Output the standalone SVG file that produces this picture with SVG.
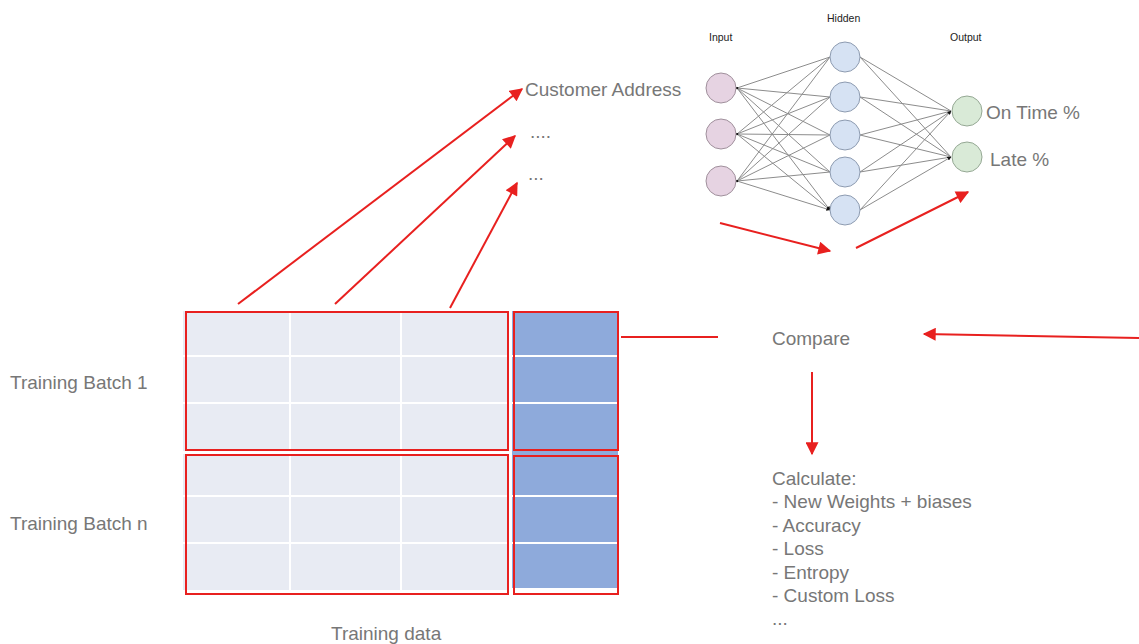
<svg xmlns="http://www.w3.org/2000/svg" width="1139" height="644" viewBox="0 0 1139 644">
  <style>
    .lbl { font-family: "Liberation Sans", Arial, sans-serif; font-size: 19px; fill: #777777; }
    .small { font-family: "Liberation Sans", Arial, sans-serif; font-size: 10.5px; fill: #222; }
    .red { stroke: #e8201f; stroke-width: 2; fill: none; }
    .nn { stroke: #8c8c8c; stroke-width: 1; fill: none; }
    .cell { fill: #e8ebf3; }
    .lab { fill: #8eaadb; }
    .grid { stroke: #ffffff; stroke-width: 2; }
    .box { fill: none; stroke: #e8201f; stroke-width: 2; }
  </style>
  <defs>
    <marker id="redArrow" viewBox="0 0 10 10" refX="9" refY="5" markerWidth="7" markerHeight="6.5" markerUnits="strokeWidth" orient="auto">
      <path d="M0,0 L10,5 L0,10 z" fill="#e8201f"/>
    </marker>
    <marker id="tinyArrow" viewBox="0 0 10 10" refX="9" refY="5" markerWidth="4" markerHeight="4" markerUnits="strokeWidth" orient="auto">
      <path d="M0,0 L10,5 L0,10 z" fill="#111"/>
    </marker>
    <marker id="dot" viewBox="0 0 10 10" refX="5" refY="5" markerWidth="3" markerHeight="3" markerUnits="strokeWidth">
      <circle cx="5" cy="5" r="4" fill="#111"/>
    </marker>
  </defs>

  <rect width="1139" height="644" fill="#ffffff"/>

  <!-- neural network edges -->
  <g id="nn-edges" class="nn">
    <!-- input -> hidden -->
    <path d="M737,88 L830,57 M737,88 L830,97 M737,88 L830,135 M737,88 L830,172 M737,88 L830,210" marker-start="url(#dot)" marker-end="url(#tinyArrow)"/>
    <path d="M737,134 L830,57 M737,134 L830,97 M737,134 L830,135 M737,134 L830,172 M737,134 L830,210" marker-start="url(#dot)" marker-end="url(#tinyArrow)"/>
    <path d="M737,181 L830,57 M737,181 L830,97 M737,181 L830,135 M737,181 L830,172 M737,181 L830,210" marker-start="url(#dot)" marker-end="url(#tinyArrow)"/>
    <!-- hidden -> output -->
    <path d="M860,57 L951,111 M860,97 L951,111 M860,135 L951,111 M860,172 L951,111 M860,210 L951,111" marker-end="url(#tinyArrow)"/>
    <path d="M860,57 L951,157 M860,97 L951,157 M860,135 L951,157 M860,172 L951,157 M860,210 L951,157" marker-end="url(#tinyArrow)"/>
  </g>

  <!-- neural network nodes -->
  <g id="input-layer">
    <circle cx="721" cy="88" r="15" fill="#e6d3e2" stroke="#a0909c"/>
    <circle cx="721" cy="134" r="15" fill="#e6d3e2" stroke="#a0909c"/>
    <circle cx="721" cy="181" r="15" fill="#e6d3e2" stroke="#a0909c"/>
    <text class="small" x="709" y="41">Input</text>
  </g>
  <g id="hidden-layer">
    <circle cx="845" cy="57" r="15" fill="#d6e2f3" stroke="#8d9bb0"/>
    <circle cx="845" cy="97" r="15" fill="#d6e2f3" stroke="#8d9bb0"/>
    <circle cx="845" cy="135" r="15" fill="#d6e2f3" stroke="#8d9bb0"/>
    <circle cx="845" cy="172" r="15" fill="#d6e2f3" stroke="#8d9bb0"/>
    <circle cx="845" cy="210" r="15" fill="#d6e2f3" stroke="#8d9bb0"/>
    <text class="small" x="827" y="22">Hidden</text>
  </g>
  <g id="output-layer">
    <circle cx="967" cy="111" r="15" fill="#d9ead7" stroke="#95a894"/>
    <circle cx="967" cy="157" r="15" fill="#d9ead7" stroke="#95a894"/>
    <text class="small" x="950" y="41">Output</text>
    <text class="lbl" x="986" y="119">On Time %</text>
    <text class="lbl" x="990" y="166">Late %</text>
  </g>

  <!-- feature labels -->
  <g id="features">
    <text class="lbl" x="525" y="96">Customer Address</text>
    <text class="lbl" x="530" y="138">....</text>
    <text class="lbl" x="528" y="180">...</text>
  </g>

  <!-- training batch 1 -->
  <g id="batch-1">
    <rect class="cell" x="183" y="311" width="325" height="140"/>
    <line class="grid" x1="290" y1="311" x2="290" y2="451"/>
    <line class="grid" x1="401" y1="311" x2="401" y2="451"/>
    <line class="grid" x1="183" y1="356" x2="508" y2="356"/>
    <line class="grid" x1="183" y1="403" x2="508" y2="403"/>
    <rect class="lab" x="512" y="311" width="106" height="142"/>
    <line class="grid" x1="512" y1="356" x2="618" y2="356"/>
    <line class="grid" x1="512" y1="403" x2="618" y2="403"/>
    <rect class="box" x="186" y="312" width="322" height="138"/>
    <rect class="box" x="514" y="312" width="104" height="138"/>
    <text class="lbl" x="10" y="389">Training Batch 1</text>
  </g>

  <!-- training batch n -->
  <g id="batch-n">
    <rect class="cell" x="183" y="454" width="325" height="136"/>
    <line class="grid" x1="290" y1="454" x2="290" y2="590"/>
    <line class="grid" x1="401" y1="454" x2="401" y2="590"/>
    <line class="grid" x1="183" y1="496" x2="508" y2="496"/>
    <line class="grid" x1="183" y1="543" x2="508" y2="543"/>
    <rect class="lab" x="512" y="453" width="106" height="135"/>
    <line class="grid" x1="512" y1="496" x2="618" y2="496"/>
    <line class="grid" x1="512" y1="543" x2="618" y2="543"/>
    <rect class="box" x="186" y="455" width="322" height="139"/>
    <rect class="box" x="514" y="456" width="104" height="138"/>
    <text class="lbl" x="10" y="530">Training Batch n</text>
  </g>

  <text id="training-data" class="lbl" x="331" y="640">Training data</text>

  <g id="compare">
    <text class="lbl" x="772" y="345">Compare</text>
  </g>

  <g id="calculate">
    <text class="lbl" x="772" y="485">Calculate:</text>
    <text class="lbl" x="772" y="508">- New Weights + biases</text>
    <text class="lbl" x="772" y="532">- Accuracy</text>
    <text class="lbl" x="772" y="555">- Loss</text>
    <text class="lbl" x="772" y="579">- Entropy</text>
    <text class="lbl" x="772" y="602">- Custom Loss</text>
    <text class="lbl" x="772" y="625">...</text>
  </g>

  <!-- connectors -->
  <g id="connectors" class="red">
    <line x1="238" y1="304" x2="522" y2="89" marker-end="url(#redArrow)"/>
    <line x1="335" y1="304" x2="515" y2="136" marker-end="url(#redArrow)"/>
    <line x1="450" y1="308" x2="517" y2="183" marker-end="url(#redArrow)"/>
    <line x1="720" y1="223" x2="830" y2="251" marker-end="url(#redArrow)"/>
    <line x1="856" y1="248" x2="968" y2="192" marker-end="url(#redArrow)"/>
    <line x1="621" y1="337" x2="718" y2="337"/>
    <line x1="1139" y1="338" x2="924" y2="334" marker-end="url(#redArrow)"/>
    <line x1="812" y1="372" x2="812" y2="454" marker-end="url(#redArrow)"/>
  </g>
</svg>
